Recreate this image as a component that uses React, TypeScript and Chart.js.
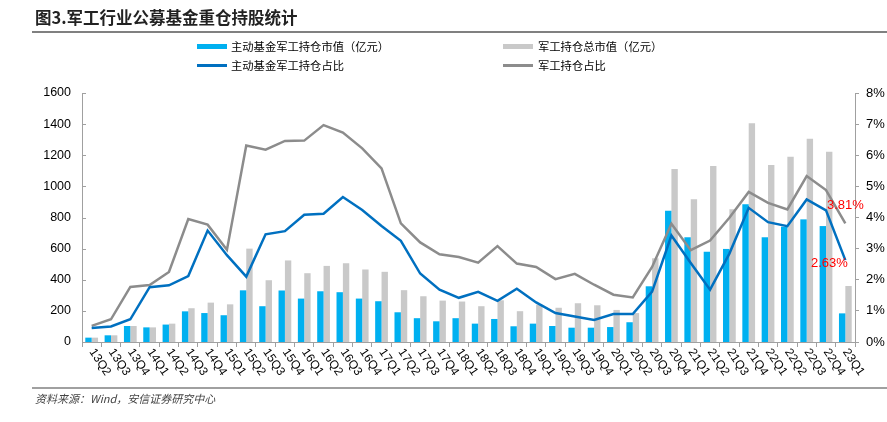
import React, { useEffect, useRef } from "react";
import { Chart, registerables } from "chart.js";

Chart.register(...registerables);

const quarters = [
  "13Q2", "13Q3", "13Q4", "14Q1", "14Q2", "14Q3", "14Q4", "15Q1", "15Q2", "15Q3",
  "15Q4", "16Q1", "16Q2", "16Q3", "16Q4", "17Q1", "17Q2", "17Q3", "17Q4", "18Q1",
  "18Q2", "18Q3", "18Q4", "19Q1", "19Q2", "19Q3", "19Q4", "20Q1", "20Q2", "20Q3",
  "20Q4", "21Q1", "21Q2", "21Q3", "21Q4", "22Q1", "22Q2", "22Q3", "22Q4", "23Q1",
];

// 主动基金军工持仓市值（亿元）
const activeValue = [
  28, 43, 103, 94, 112, 197, 186, 172, 332, 230,
  331, 279, 326, 320, 279, 262, 191, 153, 133, 153,
  118, 148, 101, 118, 103, 92, 92, 96, 127, 358,
  844, 673, 580, 598, 885, 673, 741, 788, 745, 184,
];

// 军工持仓总市值（亿元）
const totalValue = [
  28, 43, 103, 94, 118, 217, 253, 242, 600, 397,
  524, 442, 489, 506, 466, 451, 333, 294, 266, 260,
  230, 268, 198, 240, 220, 249, 236, 206, 186, 538,
  1111, 917, 1131, 853, 1405, 1137, 1191, 1306, 1223, 360,
];

// 主动基金军工持仓占比（%）
const activeRatio = [
  0.45, 0.5, 0.73, 1.76, 1.82, 2.12, 3.58, 2.79, 2.1, 3.46,
  3.56, 4.09, 4.12, 4.66, 4.24, 3.73, 3.25, 2.2, 1.68, 1.42,
  1.61, 1.32, 1.71, 1.27, 0.93, 0.82, 0.71, 0.9, 0.9, 1.62,
  3.42, 2.54, 1.68, 2.84, 4.31, 3.85, 3.72, 4.58, 4.23, 2.63,
];

// 军工持仓占比（%）
const totalRatio = [
  0.52, 0.73, 1.77, 1.83, 2.25, 3.95, 3.77, 2.96, 6.31, 6.18,
  6.46, 6.47, 6.97, 6.73, 6.22, 5.58, 3.81, 3.2, 2.82, 2.73,
  2.55, 3.08, 2.52, 2.41, 2.02, 2.19, 1.84, 1.52, 1.43, 2.41,
  3.8, 2.95, 3.26, 3.99, 4.82, 4.47, 4.26, 5.33, 4.88, 3.81,
];

const BLUE_BAR = "#00b0f0";
const GRAY_BAR = "#c9c9c9";
const BLUE_LINE = "#0070c0";
const GRAY_LINE = "#8c8c8c";
const AXIS = "#a0a0a0";
const FONT = '"Liberation Sans", Arial, sans-serif';
const CJK = '"Noto Sans CJK SC", sans-serif';

// rotated x labels, inward y ticks, end labels
const extras = {
  id: "extras",
  afterDraw(chart: any) {
    const ctx = chart.ctx;
    const x = chart.scales.x;
    const y = chart.scales.y;
    const area = chart.chartArea;
    ctx.save();

    ctx.strokeStyle = AXIS;
    ctx.lineWidth = 1;
    y.ticks.forEach((t: any) => {
      const py = Math.round(y.getPixelForValue(t.value)) + 0.5;
      ctx.beginPath();
      ctx.moveTo(area.left, py);
      ctx.lineTo(area.left + 4, py);
      ctx.stroke();
    });

    ctx.fillStyle = "#000";
    ctx.font = `12px ${FONT}`;
    ctx.textAlign = "left";
    ctx.textBaseline = "middle";
    quarters.forEach((q, i) => {
      const px = x.getPixelForValue(i);
      ctx.save();
      ctx.translate(px, area.bottom + 8);
      ctx.rotate((56 * Math.PI) / 180);
      ctx.fillText(q, 0, 0);
      ctx.restore();
    });

    const last = quarters.length - 1;
    const gp = chart.getDatasetMeta(1).data[last];
    const bp = chart.getDatasetMeta(0).data[last];
    ctx.fillStyle = "#ff0000";
    ctx.font = `13px ${FONT}`;
    ctx.textAlign = "center";
    ctx.fillText(`${totalRatio[last].toFixed(2)}%`, gp.x, gp.y - 18);
    ctx.fillText(`${activeRatio[last].toFixed(2)}%`, bp.x - 16, bp.y + 3);
    ctx.restore();
  },
};

export default function App() {
  const canvasRef = useRef<HTMLCanvasElement>(null);

  useEffect(() => {
    let chart: Chart | null = null;
    if (canvasRef.current) {
      // @ts-ignore
      chart = new Chart(canvasRef.current, {
        type: "bar",
        data: {
          labels: quarters,
          datasets: [
            {
              type: "line",
              label: "主动基金军工持仓占比",
              data: activeRatio,
              yAxisID: "y1",
              borderColor: BLUE_LINE,
              backgroundColor: BLUE_LINE,
              borderWidth: 2.5,
              pointRadius: 0,
              tension: 0,
              order: 0,
            },
            {
              type: "line",
              label: "军工持仓占比",
              data: totalRatio,
              yAxisID: "y1",
              borderColor: GRAY_LINE,
              backgroundColor: GRAY_LINE,
              borderWidth: 2.5,
              pointRadius: 0,
              tension: 0,
              order: 1,
            },
            {
              label: "主动基金军工持仓市值（亿元）",
              data: activeValue,
              yAxisID: "y",
              backgroundColor: BLUE_BAR,
              categoryPercentage: 0.66,
              barPercentage: 1.0,
              order: 2,
            },
            {
              label: "军工持仓总市值（亿元）",
              data: totalValue,
              yAxisID: "y",
              backgroundColor: GRAY_BAR,
              categoryPercentage: 0.66,
              barPercentage: 1.0,
              order: 3,
            },
          ],
        },
        options: {
          animation: false,
          responsive: true,
          maintainAspectRatio: false,
          layout: { padding: { top: 93, left: 0, right: 0, bottom: 0 } },
          plugins: {
            legend: { display: false },
            title: { display: false },
            tooltip: { enabled: false },
          },
          scales: {
            x: {
              offset: true,
              grid: {
                offset: true,
                drawOnChartArea: false,
                drawTicks: true,
                tickLength: 5,
                color: AXIS,
              },
              border: { color: AXIS, width: 1 },
              ticks: { display: false },
              afterFit: (s: any) => {
                s.height = 80;
              },
            },
            y: {
              position: "left",
              min: 0,
              max: 1600,
              grid: { display: false, drawTicks: false },
              border: { color: AXIS, width: 1 },
              ticks: {
                stepSize: 200,
                padding: 11,
                color: "#000",
                font: { family: FONT, size: 12.5 },
                callback: (v: any) => String(v),
              },
              afterFit: (s: any) => {
                s.width = 82;
              },
            },
            y1: {
              position: "right",
              min: 0,
              max: 8,
              grid: {
                drawOnChartArea: false,
                drawTicks: true,
                tickLength: 4,
                color: AXIS,
              },
              border: { color: AXIS, width: 1 },
              ticks: {
                stepSize: 1,
                padding: 7,
                color: "#000",
                font: { family: FONT, size: 13 },
                callback: (v: any) => `${v}%`,
              },
              afterFit: (s: any) => {
                s.width = 32;
              },
            },
          },
        },
        plugins: [extras],
      });
    }
    return () => {
      if (chart) chart.destroy();
    };
  }, []);

  const legendText: React.CSSProperties = {
    position: "absolute",
    fontFamily: CJK,
    fontSize: 11.3,
    lineHeight: "14px",
    color: "#000",
    whiteSpace: "nowrap",
  };

  return (
    <div
      style={{
        position: "absolute",
        left: 0,
        top: 0,
        width: 887,
        height: 422,
        background: "#fff",
        overflow: "hidden",
      }}
    >
      <div style={{ position: "absolute", left: 0, top: 0, width: 887, height: 422 }}>
        <canvas ref={canvasRef} />
      </div>

      <div
        style={{
          position: "absolute",
          left: 35,
          top: 6,
          fontFamily: CJK,
          fontWeight: "bold",
          fontSize: 16.5,
          lineHeight: "22px",
          color: "#222",
          whiteSpace: "nowrap",
        }}
      >
        图3.军工行业公募基金重仓持股统计
      </div>
      <div style={{ position: "absolute", left: 32, top: 31, width: 855, height: 1.5, background: "#808080" }} />

      <div style={{ position: "absolute", left: 197, top: 44, width: 30, height: 5, background: BLUE_BAR }} />
      <div style={{ ...legendText, left: 231, top: 39 }}>主动基金军工持仓市值（亿元）</div>
      <div style={{ position: "absolute", left: 503, top: 44, width: 30, height: 5, background: GRAY_BAR }} />
      <div style={{ ...legendText, left: 538, top: 39 }}>军工持仓总市值（亿元）</div>

      <div style={{ position: "absolute", left: 197, top: 64, width: 30, height: 2.5, background: BLUE_LINE }} />
      <div style={{ ...legendText, left: 231, top: 58 }}>主动基金军工持仓占比</div>
      <div style={{ position: "absolute", left: 503, top: 64, width: 30, height: 2.5, background: GRAY_LINE }} />
      <div style={{ ...legendText, left: 538, top: 58 }}>军工持仓占比</div>

      <div style={{ position: "absolute", left: 32, top: 387, width: 855, height: 1.5, background: "#a0a0a0" }} />
      <div
        style={{
          position: "absolute",
          left: 35,
          top: 391,
          fontFamily: CJK,
          fontStyle: "italic",
          fontSize: 11,
          lineHeight: "14px",
          color: "#444",
          whiteSpace: "nowrap",
        }}
      >
        资料来源：Wind，安信证券研究中心
      </div>
    </div>
  );
}
